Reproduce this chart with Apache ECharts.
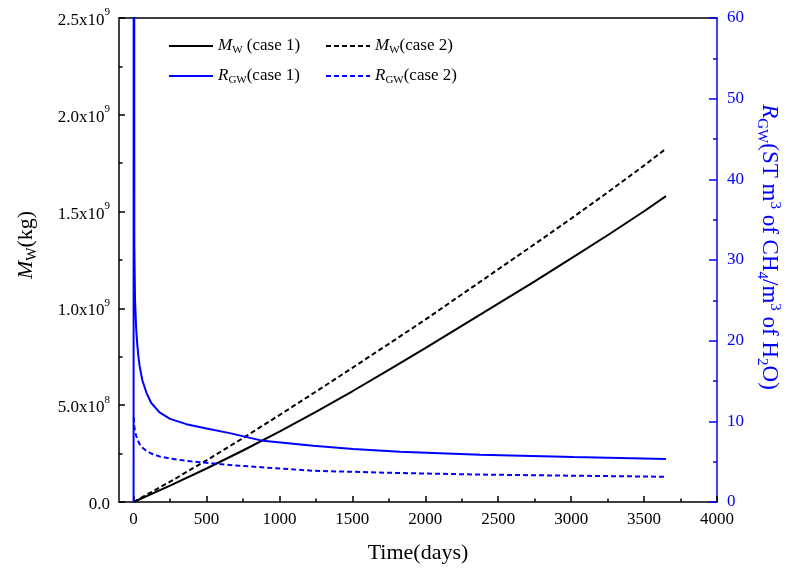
<!DOCTYPE html>
<html>
<head>
<meta charset="utf-8">
<script src="https://cdn.jsdelivr.net/npm/echarts@6/dist/echarts.min.js"></script>
<style>
  html, body { margin: 0; padding: 0; background: #fff; }
  #chart { width: 785px; height: 570px; }
</style>
</head>
<body>
<div id="chart"></div>
<script>
// ---- Data ----
const timeMw = [0, 250, 500, 750, 1000, 1250, 1500, 1750, 2000, 2250, 2500, 2750, 3000, 3250, 3500, 3650];
const mwCase1 = [0, 0.085, 0.173, 0.266, 0.364, 0.466, 0.572, 0.682, 0.795, 0.91, 1.025, 1.14, 1.258, 1.378, 1.502, 1.58]; // x1e9 kg
const mwCase2 = [0, 0.105, 0.215, 0.33, 0.449, 0.57, 0.693, 0.817, 0.942, 1.072, 1.202, 1.332, 1.464, 1.599, 1.738, 1.825]; // x1e9 kg

const timeR1 = [0, 1, 5, 10, 18, 25, 32, 41, 60, 87, 120, 178, 250, 362, 500, 659, 888, 1231, 1505, 1826, 2375, 3016, 3650];
const rgwCase1 = [0, 300, 32, 25, 21.4, 19.6, 18.2, 16.9, 15.1, 13.6, 12.3, 11.1, 10.3, 9.65, 9.1, 8.54, 7.58, 6.97, 6.56, 6.22, 5.85, 5.57, 5.32];

const timeR2 = [1, 5, 12, 18, 28, 41, 60, 87, 125, 178, 250, 362, 590, 728, 1231, 1826, 2375, 3016, 3650];
const rgwCase2 = [10.5, 9.3, 8.6, 8.2, 7.7, 7.18, 6.75, 6.35, 5.98, 5.65, 5.38, 5.11, 4.7, 4.49, 3.87, 3.59, 3.4, 3.26, 3.13];

const xMajorTicks = [0, 500, 1000, 1500, 2000, 2500, 3000, 3500, 4000];
const xMinorTicks = [250, 750, 1250, 1750, 2250, 2750, 3250, 3750];
const leftTickLabels = [['0.0', ''], ['5.0x10', '8'], ['1.0x10', '9'], ['1.5x10', '9'], ['2.0x10', '9'], ['2.5x10', '9']];
const rightTicks = [0, 10, 20, 30, 40, 50, 60];

const legendLabels = {
  'MW1': '{i|M}{sub|W} (case 1)',
  'MW2': '{i|M}{sub|W}(case 2)',
  'RGW1': '{i|R}{sub|GW}(case 1)',
  'RGW2': '{i|R}{sub|GW}(case 2)'
};

// ---- Chart ----
const FONT = 'Liberation Serif';
const BLUE = '#0000ff';
const chart = echarts.init(document.getElementById('chart'), null, { renderer: 'canvas' });

const legendRich = {
  i: { fontStyle: 'italic', fontSize: 17, fontFamily: FONT, color: '#000', lineHeight: 20 },
  sub: { fontSize: 11, fontFamily: FONT, color: '#000', verticalAlign: 'bottom', lineHeight: 14 }
};

function legendCfg(names, top) {
  return {
    data: names,
    left: 168,
    top: top,
    padding: 0,
    itemWidth: 44,
    itemHeight: 14,
    itemGap: 5,
    itemStyle: { color: 'rgba(0,0,0,0)', borderWidth: 0, opacity: 0 },
    formatter: n => legendLabels[n],
    textStyle: { fontSize: 17, fontFamily: FONT, color: '#000', width: 102, lineHeight: 20, rich: legendRich }
  };
}

const option = {
  animation: false,
  backgroundColor: '#fff',
  grid: { left: 119, right: 68, top: 18, bottom: 68, containLabel: false, outerBoundsMode: 'none' },
  legend: [legendCfg(['MW1', 'MW2'], 36), legendCfg(['RGW1', 'RGW2'], 66)],
  xAxis: [
    {
      type: 'value', min: -100, max: 4000, position: 'bottom',
      name: 'Time(days)', nameLocation: 'middle', nameGap: 40,
      nameTextStyle: { fontSize: 22, fontFamily: FONT, color: '#000' },
      axisLine: { show: true, onZero: false, lineStyle: { color: '#000', width: 1.5 } },
      axisTick: { show: true, inside: true, length: 6, customValues: xMajorTicks, lineStyle: { color: '#000', width: 1.5 } },
      axisLabel: { customValues: xMajorTicks, formatter: v => String(v), fontSize: 17, fontFamily: FONT, color: '#000', margin: 9 },
      splitLine: { show: false }
    },
    {
      type: 'value', min: -100, max: 4000, position: 'bottom',
      axisLine: { show: false, onZero: false },
      axisTick: { show: true, inside: true, length: 3.5, customValues: xMinorTicks, lineStyle: { color: '#000', width: 1.5 } },
      axisLabel: { show: false },
      splitLine: { show: false }
    },
    {
      type: 'value', min: -100, max: 4000, position: 'top',
      axisLine: { show: true, onZero: false, lineStyle: { color: '#000', width: 1.5 } },
      axisTick: { show: false }, axisLabel: { show: false }, splitLine: { show: false }
    }
  ],
  yAxis: [
    {
      type: 'value', min: 0, max: 2.5e9, interval: 0.5e9, position: 'left',
      name: '{i|M}{sub|W}{n|(kg)}', nameLocation: 'middle', nameGap: 80, nameRotate: 90,
      nameTextStyle: {
        fontSize: 22, fontFamily: FONT, color: '#000', padding: [0, 0, 0, 30],
        rich: {
          i: { fontStyle: 'italic', fontSize: 22, fontFamily: FONT, color: '#000', lineHeight: 26 },
          sub: { fontSize: 14, fontFamily: FONT, color: '#000', verticalAlign: 'bottom', lineHeight: 18 },
          n: { fontSize: 22, fontFamily: FONT, color: '#000', lineHeight: 26 }
        }
      },
      axisLine: { show: true, onZero: false, lineStyle: { color: '#000', width: 1.5 } },
      axisTick: { show: true, inside: true, length: 6, lineStyle: { color: '#000', width: 1.5 } },
      minorTick: { show: true, splitNumber: 2, length: 3.5, lineStyle: { color: '#000', width: 1.5 } },
      axisLabel: {
        margin: 9,
        formatter: v => {
          const l = leftTickLabels[Math.round(v / 0.5e9)];
          return l[1] ? '{n|' + l[0] + '}{s|' + l[1] + '}' : '{n|' + l[0] + '}';
        },
        rich: {
          n: { fontSize: 17, fontFamily: FONT, color: '#000', lineHeight: 22, verticalAlign: 'bottom' },
          s: { fontSize: 11, fontFamily: FONT, color: '#000', lineHeight: 20, verticalAlign: 'top' }
        }
      },
      splitLine: { show: false }
    },
    {
      type: 'value', min: 0, max: 60, interval: 10, position: 'right',
      name: '{i|R}{sub|GW}{n|(ST m}{sup|3}{n| of CH}{sub|4}{n|/m}{sup|3}{n| of H}{sub|2}{n|O)}',
      nameLocation: 'middle', nameGap: 37, nameRotate: -90,
      nameTextStyle: {
        fontSize: 23, fontFamily: FONT, color: BLUE, padding: [0, 26, 0, 0],
        rich: {
          i: { fontStyle: 'italic', fontSize: 23, fontFamily: FONT, color: BLUE, lineHeight: 28 },
          n: { fontSize: 23, fontFamily: FONT, color: BLUE, lineHeight: 28 },
          sub: { fontSize: 15, fontFamily: FONT, color: BLUE, verticalAlign: 'bottom', lineHeight: 18 },
          sup: { fontSize: 15, fontFamily: FONT, color: BLUE, verticalAlign: 'top', lineHeight: 18 }
        }
      },
      axisLine: { show: true, onZero: false, lineStyle: { color: BLUE, width: 1.5 } },
      axisTick: { show: true, inside: true, length: 8, lineStyle: { color: BLUE, width: 1.5 } },
      minorTick: { show: true, splitNumber: 2, length: 4, lineStyle: { color: BLUE, width: 1.5 } },
      axisLabel: {
        customValues: rightTicks,
        fontSize: 17, fontFamily: FONT, color: BLUE, margin: 10
      },
      splitLine: { show: false }
    }
  ],
  series: [
    {
      name: 'MW1', type: 'line', xAxisIndex: 0, yAxisIndex: 0, symbol: 'none',
      lineStyle: { color: '#000', width: 2, type: 'solid' }, itemStyle: { color: '#000' },
      data: timeMw.map((t, i) => [t, mwCase1[i] * 1e9]), z: 3
    },
    {
      name: 'MW2', type: 'line', xAxisIndex: 0, yAxisIndex: 0, symbol: 'none',
      lineStyle: { color: '#000', width: 2, type: [5, 3] }, itemStyle: { color: '#000' },
      data: timeMw.map((t, i) => [t, mwCase2[i] * 1e9]), z: 3
    },
    {
      name: 'RGW1', type: 'line', xAxisIndex: 0, yAxisIndex: 1, symbol: 'none',
      lineStyle: { color: BLUE, width: 2, type: 'solid' }, itemStyle: { color: BLUE },
      data: timeR1.map((t, i) => [t, rgwCase1[i]]), z: 3
    },
    {
      name: 'RGW2', type: 'line', xAxisIndex: 0, yAxisIndex: 1, symbol: 'none',
      lineStyle: { color: BLUE, width: 2, type: [5, 3] }, itemStyle: { color: BLUE },
      data: timeR2.map((t, i) => [t, rgwCase2[i]]), z: 3
    }
  ]
};

chart.setOption(option);
</script>
</body>
</html>
